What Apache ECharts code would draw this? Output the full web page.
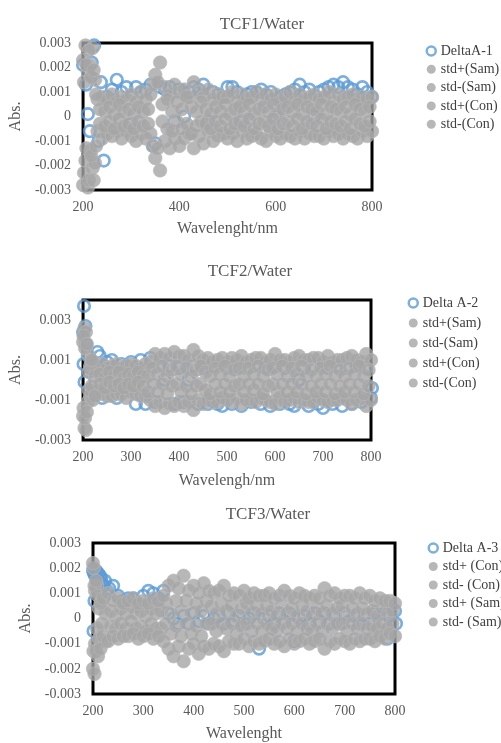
<!DOCTYPE html>
<html><head><meta charset="utf-8">
<script src="https://cdn.jsdelivr.net/npm/echarts@6/dist/echarts.min.js"></script>
<style>html,body{margin:0;padding:0;background:#fff}#c{width:501px;height:743px}</style>
</head><body><div id="c"></div>
<script>
// ---------- wavelengths ----------
const wlS1 = [200,205,210,215,220,225,230,240,250,260,270,280,290,300,310,320,330,340,350,360,370,380,390,400,410,420,430,440,450,460,470,480,490,500,510,520,530,540,550,560,570,580,590,600,610,620,630,640,650,660,670,680,690,700,710,720,730,740,750,760,770,780,790,800];
const wlC1 = [202,207,212,217,222,227,235,245,255,265,275,285,295,305,315,325,335,345,355,365,375,385,395,405,415,425,435,445,455,465,475,485,495,505,515,525,535,545,555,565,575,585,595,605,615,625,635,645,655,665,675,685,695,705,715,725,735,745,755,765,775,785,795];
const wlS2 = [200,203,206,210,215,220,230,240,250,260,270,280,290,300,310,320,330,340,350,360,370,380,390,400,410,420,430,440,450,460,470,480,490,500,510,520,530,540,550,560,570,580,590,600,610,620,630,640,650,660,670,680,690,700,710,720,730,740,750,760,770,780,790,800];
const wlC2 = [201,204,208,212,218,225,235,245,255,265,275,285,295,305,315,325,335,345,355,365,375,385,395,405,415,425,435,445,455,465,475,485,495,505,515,525,535,545,555,565,575,585,595,605,615,625,635,645,655,665,675,685,695,705,715,725,735,745,755,765,775,785,795];
const wlD1 = [200,206,210,214,218,223,232,237,243,250,260,270,280,290,300,310,320,330,340,345,350,360,370,380,390,400,410,420,430,440,450,460,470,480,490,500,510,520,530,540,550,560,570,580,590,600,610,620,630,640,650,660,670,680,690,700,710,720,730,740,750,760,770,780,790,800];
const wlD2 = [200,201,202,203,205,206,210,215,220,230,235,240,250,260,270,280,290,300,310,320,330,340,350,360,370,380,390,400,410,420,430,440,450,460,470,480,490,500,510,520,530,540,550,560,570,580,590,600,610,620,630,640,650,660,670,680,690,700,710,720,730,740,750,760,770,780,790,800,802];
const wlD3 = [200,201,202,203,204,206,208,210,212,214,216,218,220,224,228,232,240,250,260,270,280,290,300,310,320,330,340,350,360,370,380,390,400,410,420,430,440,450,460,470,480,490,500,510,520,530,540,550,560,570,580,590,600,610,620,630,640,650,660,670,680,690,700,710,720,730,740,750,760,770,780,785,790,800,802];

// ---------- TCF1/Water ----------
const delta1 = [0.0021,0.0013,0.0001,-0.0006,0.0022,0.0029,-0.0010,0.0014,-0.0018,
0.0008,0.0011,0.0015,0.0010,0.0012,-0.0003,0.0012,0.0010,0.0011,0.0013,-0.0012,
-0.0011,0.0012,0.0011,0.0012,-0.0002,0.0011,0.0000,0.0010,0.0012,0.0011,
0.0013,-0.0002,0.0010,0.0009,0.0008,0.0012,0.0012,0.0010,-0.0002,0.0009,
0.0010,0.0010,0.0011,0.0009,0.0010,0.0000,0.0008,0.0009,0.0010,0.0011,
0.0013,0.0010,0.0011,0.0000,0.0010,0.0011,0.0012,0.0013,0.0012,0.0014,
0.0012,0.0011,0.0009,0.0012,0.0010,0.0008];
const samP1 = [0.0023,0.0029,0.0018,0.0021,0.0028,0.0015,0.0007,
0.0008,0.0007,0.0009,0.0006,0.0008,0.0007,0.0009,0.0006,0.0010,0.0007,
0.0009,0.0017,0.0022,0.0012,0.0009,0.0013,0.0010,0.0011,0.0008,0.0014,
0.0010,0.0008,0.0011,0.0007,0.0009,0.0008,0.0008,0.0010,0.0006,0.0009,
0.0007,0.0008,0.0010,0.0007,0.0009,0.0007,0.0009,0.0006,0.0008,0.0010,
0.0006,0.0009,0.0007,0.0008,0.0009,0.0007,0.0008,0.0010,0.0006,0.0009,
0.0007,0.0008,0.0009,0.0006,0.0008,0.0007,0.0008];
const samM1 = [-0.0028,-0.0018,-0.0029,-0.0014,-0.0021,-0.0019,-0.0006,
-0.0009,-0.0007,-0.0008,-0.0006,-0.0009,-0.0006,-0.0008,-0.0010,-0.0007,-0.0009,
-0.0007,-0.0017,-0.0022,-0.0010,-0.0013,-0.0009,-0.0012,-0.0009,-0.0007,-0.0013,
-0.0008,-0.0011,-0.0006,-0.0010,-0.0008,-0.0007,-0.0009,-0.0007,-0.0010,-0.0006,
-0.0009,-0.0008,-0.0007,-0.0009,-0.0010,-0.0006,-0.0008,-0.0009,-0.0007,-0.0008,
-0.0009,-0.0006,-0.0009,-0.0007,-0.0008,-0.0008,-0.0009,-0.0006,-0.0008,-0.0007,
-0.0009,-0.0007,-0.0008,-0.0009,-0.0006,-0.0008,-0.0006];
const conP1 = [0.0014,0.0021,0.0027,0.0016,0.0019,0.0009,
0.0003,0.0002,0.0004,0.0001,0.0005,0.0002,0.0003,0.0001,0.0004,0.0002,
0.0003,0.0013,0.0014,0.0005,0.0007,0.0002,0.0006,0.0003,0.0008,0.0004,
0.0002,0.0006,0.0003,0.0001,0.0004,0.0002,0.0005,0.0001,0.0003,0.0004,
0.0002,0.0005,0.0001,0.0003,0.0004,0.0002,0.0005,0.0001,0.0003,0.0004,
0.0002,0.0005,0.0001,0.0004,0.0003,0.0002,0.0005,0.0001,0.0004,0.0003,
0.0002,0.0004,0.0001,0.0005,0.0003,0.0002,0.0004];
const conM1 = [-0.0023,-0.0013,-0.0026,-0.0016,-0.0026,-0.0012,
-0.0003,-0.0004,-0.0002,-0.0005,-0.0001,-0.0004,-0.0003,-0.0005,-0.0002,-0.0004,
-0.0003,-0.0012,-0.0013,-0.0002,-0.0005,-0.0006,-0.0002,-0.0005,-0.0003,-0.0007,
-0.0004,-0.0002,-0.0003,-0.0005,-0.0002,-0.0004,-0.0001,-0.0005,-0.0003,-0.0002,
-0.0004,-0.0001,-0.0005,-0.0003,-0.0002,-0.0004,-0.0001,-0.0005,-0.0003,-0.0002,
-0.0004,-0.0001,-0.0005,-0.0002,-0.0003,-0.0004,-0.0001,-0.0005,-0.0002,-0.0003,
-0.0004,-0.0002,-0.0005,-0.0001,-0.0003,-0.0004,-0.0002];

// ---------- TCF2/Water ----------
const delta2 = [0.0024,0.0008,0.0037,-0.0001,0.0027,0.0018,0.0012,0.0006,-0.0006,0.0014,0.0012,-0.0009,
0.0009,0.0010,-0.0009,0.0008,0.0007,0.0009,-0.0012,0.0010,-0.0012,0.0011,
-0.0011,0.0007,0.0000,0.0007,-0.0012,0.0006,-0.0011,0.0000,0.0007,-0.0012,
0.0006,-0.0012,0.0007,-0.0012,-0.0013,0.0006,-0.0012,0.0007,-0.0013,0.0006,
-0.0011,0.0007,-0.0012,0.0006,-0.0013,0.0007,-0.0012,0.0006,-0.0012,-0.0013,
0.0000,0.0006,-0.0013,0.0007,-0.0012,-0.0014,0.0006,-0.0012,0.0007,-0.0013,
0.0006,-0.0012,0.0007,-0.0011,0.0006,-0.0009,-0.0004];
const samP2 = [0.0019,0.0026,0.0024,0.0013,0.0007,0.0009,0.0005,
0.0008,0.0006,0.0007,0.0008,0.0006,0.0007,0.0008,0.0007,0.0006,0.0008,
0.0009,0.0013,0.0011,0.0013,0.0011,0.0014,0.0012,0.0012,0.0010,0.0015,
0.0012,0.0010,0.0011,0.0009,0.0010,0.0011,0.0009,0.0011,0.0010,0.0012,
0.0009,0.0010,0.0011,0.0011,0.0009,0.0010,0.0013,0.0010,0.0010,0.0009,
0.0011,0.0012,0.0010,0.0010,0.0011,0.0011,0.0009,0.0012,0.0009,0.0010,
0.0010,0.0011,0.0012,0.0010,0.0009,0.0013,0.0010];
const samM2 = [-0.0018,-0.0024,-0.0025,-0.0011,-0.0008,-0.0010,-0.0006,
-0.0007,-0.0008,-0.0008,-0.0007,-0.0007,-0.0009,-0.0006,-0.0007,-0.0008,-0.0008,
-0.0010,-0.0013,-0.0011,-0.0014,-0.0012,-0.0013,-0.0011,-0.0013,-0.0011,-0.0015,
-0.0010,-0.0012,-0.0010,-0.0011,-0.0011,-0.0009,-0.0010,-0.0011,-0.0009,-0.0012,
-0.0010,-0.0010,-0.0011,-0.0009,-0.0010,-0.0011,-0.0012,-0.0009,-0.0011,-0.0010,
-0.0009,-0.0011,-0.0010,-0.0011,-0.0011,-0.0009,-0.0010,-0.0011,-0.0010,-0.0010,
-0.0009,-0.0010,-0.0012,-0.0010,-0.0009,-0.0013,-0.0010];
const conP2 = [0.0022,0.0016,0.0018,0.0004,0.0010,0.0002,
0.0003,0.0001,0.0004,0.0002,0.0004,0.0001,0.0003,0.0002,0.0004,0.0002,
0.0002,0.0006,0.0003,0.0007,0.0002,0.0005,0.0007,0.0003,0.0006,0.0002,
0.0005,0.0007,0.0004,0.0002,0.0006,0.0003,0.0007,0.0002,0.0005,0.0006,
0.0002,0.0006,0.0003,0.0007,0.0002,0.0005,0.0006,0.0003,0.0007,0.0002,
0.0006,0.0003,0.0007,0.0002,0.0005,0.0002,0.0006,0.0003,0.0007,0.0002,
0.0005,0.0002,0.0006,0.0003,0.0007,0.0002,0.0005];
const conM2 = [-0.0014,-0.0019,-0.0016,-0.0005,-0.0003,-0.0008,
-0.0002,-0.0004,-0.0001,-0.0003,-0.0002,-0.0004,-0.0002,-0.0003,-0.0001,-0.0003,
-0.0006,-0.0002,-0.0006,-0.0002,-0.0007,-0.0003,-0.0002,-0.0006,-0.0003,-0.0007,
-0.0003,-0.0002,-0.0005,-0.0007,-0.0002,-0.0006,-0.0002,-0.0006,-0.0003,-0.0002,
-0.0006,-0.0002,-0.0005,-0.0002,-0.0007,-0.0003,-0.0002,-0.0006,-0.0002,-0.0006,
-0.0002,-0.0006,-0.0002,-0.0007,-0.0003,-0.0006,-0.0002,-0.0006,-0.0002,-0.0007,
-0.0003,-0.0006,-0.0002,-0.0006,-0.0002,-0.0007,-0.0003];

// ---------- TCF3/Water ----------
const delta3 = [0.0019,-0.0005,0.0018,0.0007,0.0017,0.0019,0.0016,0.0018,0.0015,0.0017,0.0016,0.0014,0.0013,0.0015,0.0011,0.0012,0.0013,
0.0009,0.0007,0.0008,0.0008,0.0005,0.0009,0.0011,0.0010,0.0008,0.0011,
0.0002,0.0000,-0.0002,0.0001,-0.0002,0.0002,-0.0001,0.0001,-0.0002,0.0000,
0.0001,-0.0002,0.0002,-0.0001,0.0001,-0.0002,0.0000,0.0002,-0.0012,0.0000,
0.0001,-0.0002,0.0002,-0.0001,0.0002,-0.0009,0.0000,0.0001,-0.0002,0.0002,
-0.0001,0.0002,-0.0002,0.0001,-0.0002,0.0002,-0.0001,0.0001,-0.0002,0.0001,
-0.0002,0.0002,-0.0001,0.0002,-0.0008,0.0001,0.0003,-0.0002];
const samP3 = [0.0022,0.0013,0.0015,0.0009,0.0006,0.0008,0.0010,
0.0007,0.0008,0.0006,0.0007,0.0008,0.0006,0.0007,0.0006,0.0008,0.0007,
0.0009,0.0013,0.0015,0.0012,0.0017,0.0011,0.0013,0.0010,0.0014,0.0011,
0.0010,0.0011,0.0013,0.0009,0.0010,0.0009,0.0011,0.0008,0.0010,0.0009,
0.0009,0.0010,0.0008,0.0009,0.0011,0.0009,0.0008,0.0010,0.0009,0.0008,
0.0009,0.0008,0.0012,0.0009,0.0010,0.0008,0.0009,0.0009,0.0008,0.0010,
0.0008,0.0009,0.0007,0.0008,0.0007,0.0007,0.0006];
const samM3 = [-0.0020,-0.0022,-0.0013,-0.0015,-0.0012,-0.0007,-0.0009,
-0.0007,-0.0008,-0.0007,-0.0007,-0.0006,-0.0008,-0.0007,-0.0006,-0.0008,-0.0007,
-0.0009,-0.0012,-0.0015,-0.0011,-0.0017,-0.0012,-0.0010,-0.0014,-0.0011,-0.0012,
-0.0010,-0.0011,-0.0013,-0.0009,-0.0010,-0.0010,-0.0008,-0.0011,-0.0009,-0.0010,
-0.0009,-0.0008,-0.0010,-0.0009,-0.0011,-0.0008,-0.0010,-0.0009,-0.0008,-0.0010,
-0.0009,-0.0008,-0.0012,-0.0009,-0.0010,-0.0008,-0.0009,-0.0010,-0.0008,-0.0009,
-0.0008,-0.0008,-0.0009,-0.0007,-0.0008,-0.0006,-0.0007];
const conP3 = [0.0020,0.0011,0.0013,0.0004,0.0007,0.0002,
0.0003,0.0001,0.0004,0.0002,0.0005,0.0002,0.0003,0.0001,0.0004,0.0002,
0.0003,0.0006,0.0002,0.0007,0.0003,0.0007,0.0002,0.0006,0.0003,0.0007,
0.0005,0.0002,0.0006,0.0003,0.0005,0.0001,0.0004,0.0006,0.0002,0.0005,
0.0002,0.0005,0.0003,0.0001,0.0005,0.0002,0.0004,0.0001,0.0005,0.0003,
0.0001,0.0004,0.0002,0.0005,0.0002,0.0004,0.0005,0.0001,0.0004,0.0002,
0.0004,0.0002,0.0003,0.0001,0.0004,0.0002,0.0003];
const conM3 = [-0.0013,-0.0010,-0.0004,-0.0008,-0.0002,-0.0009,
-0.0003,-0.0004,-0.0002,-0.0004,-0.0001,-0.0004,-0.0003,-0.0005,-0.0002,-0.0004,
-0.0004,-0.0002,-0.0006,-0.0003,-0.0007,-0.0002,-0.0006,-0.0003,-0.0007,-0.0002,
-0.0002,-0.0005,-0.0002,-0.0004,-0.0002,-0.0006,-0.0003,-0.0002,-0.0005,-0.0002,
-0.0005,-0.0002,-0.0004,-0.0005,-0.0002,-0.0004,-0.0002,-0.0005,-0.0002,-0.0004,
-0.0005,-0.0002,-0.0005,-0.0002,-0.0004,-0.0002,-0.0002,-0.0005,-0.0002,-0.0004,
-0.0002,-0.0004,-0.0003,-0.0004,-0.0002,-0.0004,-0.0002];

// ---------- labels ----------
const titles = ['TCF1/Water','TCF2/Water','TCF3/Water'];
const xNames = ['Wavelenght/nm','Wavelengh/nm','Wavelenght'];
const yName = 'Abs.';
const legend1 = ['DeltaA-1','std+(Sam)','std-(Sam)','std+(Con)','std-(Con)'];
const legend2 = ['Delta A-2','std+(Sam) ','std-(Sam) ','std+(Con) ','std-(Con) '];
const legend3 = ['Delta A-3','std+ (Con)','std- (Con)','std+ (Sam)','std- (Sam)'];

// ---------- build ----------
const FONT = 'Liberation Serif, Times New Roman, serif';
const TXT = '#595959';
const BLUE = '#5B9BD5';
const GREY = '#A5A5A5';
const pairs = (xs, ys) => xs.map((x, i) => [x, ys[i]]);

function blueSeries(name, idx, xs, ys) {
  return { type: 'scatter', name, xAxisIndex: idx, yAxisIndex: idx, data: pairs(xs, ys),
    symbol: 'circle', symbolSize: 11.5, clip: false,
    itemStyle: { color: 'rgba(255,255,255,0)', borderColor: BLUE, borderWidth: 2.7 },
    emphasis: { disabled: true }, z: 2 };
}
function greySeries(name, idx, xs, ys) {
  return { type: 'scatter', name, xAxisIndex: idx, yAxisIndex: idx, data: pairs(xs, ys),
    symbol: 'circle', symbolSize: 13.5, clip: false,
    itemStyle: { color: GREY, borderColor: '#b8b8b8', borderWidth: 0.8 },
    emphasis: { disabled: true }, z: 3 };
}
function legendData(names) {
  return names.map((n, i) => i === 0
    ? { name: n, icon: 'circle', itemStyle: { color: '#fff', borderColor: BLUE, borderWidth: 2.5 } }
    : { name: n, icon: 'circle', itemStyle: { color: GREY, borderWidth: 0 } });
}
function fmt3(v) { const r = Math.round(v * 1000) / 1000; return String(r); }
function fmtOdd(v) { const k = Math.round(v * 1000); return (Math.abs(k) % 2 === 1) ? String(k / 1000) : ''; }

const grids = [
  { left: 82, top: 43, width: 290, height: 147 },
  { left: 82, top: 300, width: 289, height: 140 },
  { left: 93, top: 543, width: 302, height: 151 }
];
const gridOpts = grids.map(g => Object.assign({ show: true, borderColor: '#000', borderWidth: 3, backgroundColor: 'transparent' }, g));

const xAxes = [
  { interval: 200, gap: 31 }, { interval: 100, gap: 33 }, { interval: 100, gap: 32 }
].map((a, i) => ({
  type: 'value', gridIndex: i, min: 200, max: 800, interval: a.interval,
  axisLine: { show: false }, axisTick: { show: false }, splitLine: { show: false },
  axisLabel: { color: TXT, fontFamily: FONT, fontSize: 14, margin: 10 },
  name: xNames[i], nameLocation: 'middle', nameGap: a.gap,
  nameTextStyle: { color: TXT, fontFamily: FONT, fontSize: 16 }
}));
const yAxes = [
  { min: -0.003, max: 0.003, f: fmt3, gap: 51 },
  { min: -0.003, max: 0.004, f: fmtOdd, gap: 51 },
  { min: -0.003, max: 0.003, f: fmt3, gap: 53 }
].map((a, i) => ({
  type: 'value', gridIndex: i, min: a.min, max: a.max, interval: 0.001,
  axisLine: { show: false }, axisTick: { show: false }, splitLine: { show: false },
  axisLabel: { color: TXT, fontFamily: FONT, fontSize: 14, margin: 12, formatter: a.f },
  name: yName, nameLocation: 'middle', nameGap: a.gap, nameRotate: 90,
  nameTextStyle: { color: TXT, fontFamily: FONT, fontSize: 16 }
}));

const series = [
  blueSeries(legend1[0], 0, wlD1, delta1),
  greySeries(legend1[1], 0, wlS1, samP1),
  greySeries(legend1[2], 0, wlS1, samM1),
  greySeries(legend1[3], 0, wlC1, conP1),
  greySeries(legend1[4], 0, wlC1, conM1),
  blueSeries(legend2[0], 1, wlD2, delta2),
  greySeries(legend2[1], 1, wlS2, samP2),
  greySeries(legend2[2], 1, wlS2, samM2),
  greySeries(legend2[3], 1, wlC2, conP2),
  greySeries(legend2[4], 1, wlC2, conM2),
  blueSeries(legend3[0], 2, wlD3, delta3),
  greySeries(legend3[1], 2, wlC2, conP3),
  greySeries(legend3[2], 2, wlC2, conM3),
  greySeries(legend3[3], 2, wlS2, samP3),
  greySeries(legend3[4], 2, wlS2, samM3)
];

const legendBase = { orient: 'vertical', itemWidth: 9, itemHeight: 9, selectedMode: false, padding: 0,
  textStyle: { color: '#404040', fontFamily: FONT, fontSize: 14 } };
const legends = [
  Object.assign({}, legendBase, { left: 425.5, top: 44, itemGap: 4.3, data: legendData(legend1) }),
  Object.assign({}, legendBase, { left: 407.5, top: 296, itemGap: 6, data: legendData(legend2) }),
  Object.assign({}, legendBase, { left: 427.5, top: 541, itemGap: 4.5, data: legendData(legend3) })
];

const titleOpts = [[257, 11], [245, 258], [263, 501]].map((p, i) => ({
  text: titles[i], left: p[0], top: p[1], textAlign: 'center',
  textStyle: { color: TXT, fontFamily: FONT, fontSize: 17, fontWeight: 'normal' }
}));

const chart = echarts.init(document.getElementById('c'), null, { renderer: 'canvas' });
chart.setOption({
  animation: false,
  backgroundColor: '#fff',
  title: titleOpts,
  legend: legends,
  grid: gridOpts,
  xAxis: xAxes,
  yAxis: yAxes,
  series: series
});
</script>
</body></html>
